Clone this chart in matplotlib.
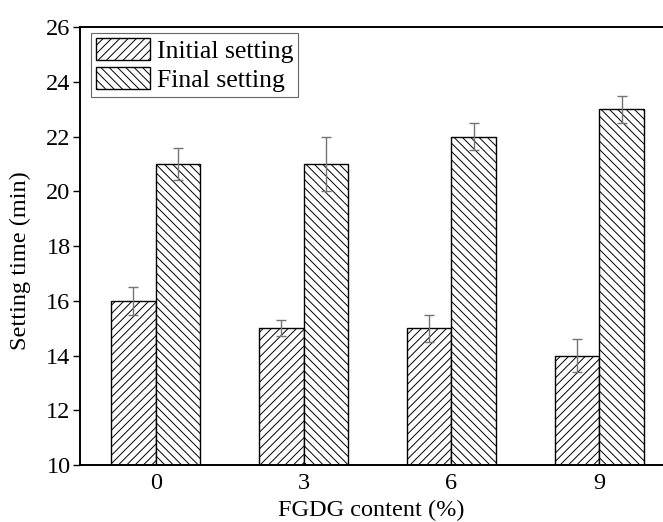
import numpy as np
import matplotlib
matplotlib.use("Agg")
import matplotlib.pyplot as plt

# data
contents = ["0", "3", "6", "9"]
initial = [16, 15, 15, 14]
initial_err = [0.5, 0.3, 0.5, 0.6]
final = [21, 21, 22, 23]
final_err = [0.6, 1.0, 0.5, 0.5]

plt.rcParams["font.family"] = ["Liberation Serif", "DejaVu Serif"]
plt.rcParams["hatch.linewidth"] = 0.7

fig = plt.figure(figsize=(6.63, 5.22), dpi=100)
ax = fig.add_axes([0.121, 0.109, 0.879, 0.839])

x = np.arange(len(contents))
w = 0.3
err_kw = dict(ecolor="0.45", capsize=3.5, elinewidth=1, capthick=1)

ax.bar(x - w / 2, initial, w, yerr=initial_err, color="white", edgecolor="black",
       linewidth=1, hatch="////", label="Initial setting", error_kw=err_kw)
ax.bar(x + w / 2, final, w, yerr=final_err, color="white", edgecolor="black",
       linewidth=1, hatch="\\\\\\\\", label="Final setting", error_kw=err_kw)

ax.set_xlim(-0.51, 3.43)
ax.set_ylim(10, 26)
ax.set_yticks(range(10, 27, 2))
ax.set_xticks(x)
ax.set_xticklabels(contents)

ax.spines["right"].set_visible(False)
for s in ["left", "bottom", "top"]:
    ax.spines[s].set_linewidth(1.4)
ax.tick_params(axis="y", direction="out", length=5, width=1, labelsize=17.5, pad=2)
ax.tick_params(axis="x", length=0, labelsize=17.5, pad=6)

ax.set_xlabel("FGDG content (%)", fontsize=17.5, labelpad=4)
ax.set_ylabel("Setting time (min)", fontsize=17.5)
ax.yaxis.set_label_coords(-0.084, 0.466)

leg = ax.legend(loc="upper left", bbox_to_anchor=(0.01, 0.999), fontsize=18.5,
                frameon=True, fancybox=False, edgecolor="0.4", framealpha=1,
                handlelength=2.1, handleheight=0.95, labelspacing=0.15,
                handletextpad=0.25, borderpad=0.2, borderaxespad=0.2)
leg.get_frame().set_linewidth(0.8)

fig.savefig("out.png", dpi=100)
